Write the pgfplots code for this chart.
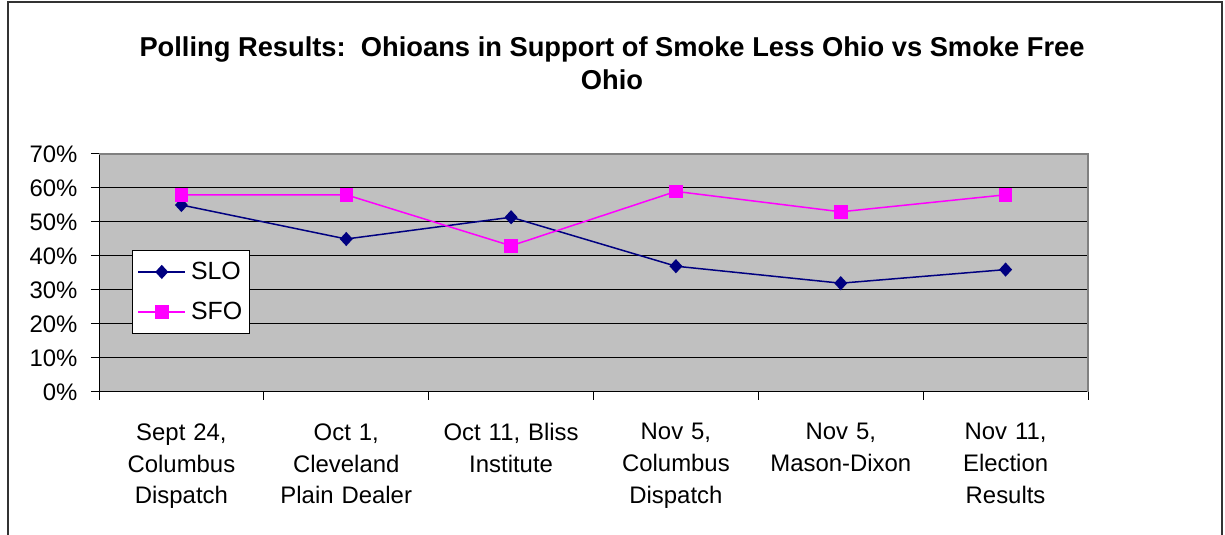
\documentclass[border=0pt]{standalone}
\usepackage{pgfplots}
\pgfplotsset{compat=1.18}
\usepackage{fontspec}
\setmainfont{Liberation Sans}
\definecolor{navyc}{RGB}{0,0,128}
\definecolor{magc}{RGB}{255,0,255}
\definecolor{bgc}{RGB}{192,192,192}
\begin{document}
\begin{tikzpicture}[x=1bp,y=1bp]
\path[use as bounding box] (0,0) rectangle (1225,535);
\draw[line width=1.5bp, black!80] (8,-5) -- (8,533) -- (1222,533) -- (1222,-5);
\node[font=\bfseries\fontsize{27.4}{33}\selectfont, align=center] at (612,471.5)
  {Polling Results:\ \ Ohioans in Support of Smoke Less Ohio vs Smoke Free\\Ohio};
\begin{axis}[
  at={(99bp,143bp)}, anchor=south west, scale only axis,
  width=989bp, height=238bp,
  xmin=-0.5, xmax=5.5, ymin=0, ymax=70,
  axis background/.style={fill=bgc},
  axis x line*=bottom, axis y line*=left,
  axis line style={black, line width=1bp, -},
  ytick={0,10,...,70},
  yticklabel={\pgfmathprintnumber{\tick}\%},
  yticklabel style={font=\fontsize{24}{28}\selectfont, xshift=-10bp},
  /pgf/number format/assume math mode=true,
  tick align=outside, major tick length=8bp,
  tick style={black, line width=1bp},
  ymajorgrids, major grid style={black, line width=1bp},
  xtick={-0.5,0.5,...,5.5}, xticklabels={},
  extra x ticks={0,1,2,3,4,5},
  extra x tick labels={{Sept 24,\\Columbus\\Dispatch},{Oct 1,\\Cleveland\\Plain Dealer},{Oct 11, Bliss\\Institute},{Nov 5,\\Columbus\\Dispatch},{Nov 5,\\Mason-Dixon},{Nov 11,\\Election\\Results}},
  extra x tick style={major tick length=0pt, grid=none},
  xticklabel style={font=\fontsize{24}{32}\selectfont, text width=160bp, align=center, yshift=-28bp},
  legend style={at={(0.0334,0.5966)}, anchor=north west, draw=black, fill=white,
    line width=1bp, font=\fontsize{25}{28}\selectfont, inner xsep=5bp, inner ysep=10bp,
    row sep=17bp, column sep=3bp, cells={anchor=west}},
  legend image code/.code={\draw[mark repeat=2,mark phase=2] plot coordinates {(0bp,0bp)(23.5bp,0bp)(47bp,0bp)};},
  clip=false,
]
\addplot[color=navyc, line width=1.5bp, mark=diamond*, mark size=6bp, mark options={fill=navyc, solid, xscale=1.22}]
  coordinates {(0,55) (1,45) (2,51.4) (3,37) (4,32) (5,36)};
\addlegendentry{SLO}
\addplot[color=magc, line width=1.5bp, mark=square*, mark size=6bp, mark options={fill=magc, solid}]
  coordinates {(0,58) (1,58) (2,43) (3,59) (4,53) (5,58)};
\addlegendentry{SFO}
\draw[gray, line width=1.5bp] (rel axis cs:0,1) -- (rel axis cs:1,1) -- (rel axis cs:1,0);
\end{axis}
\end{tikzpicture}
\end{document}
